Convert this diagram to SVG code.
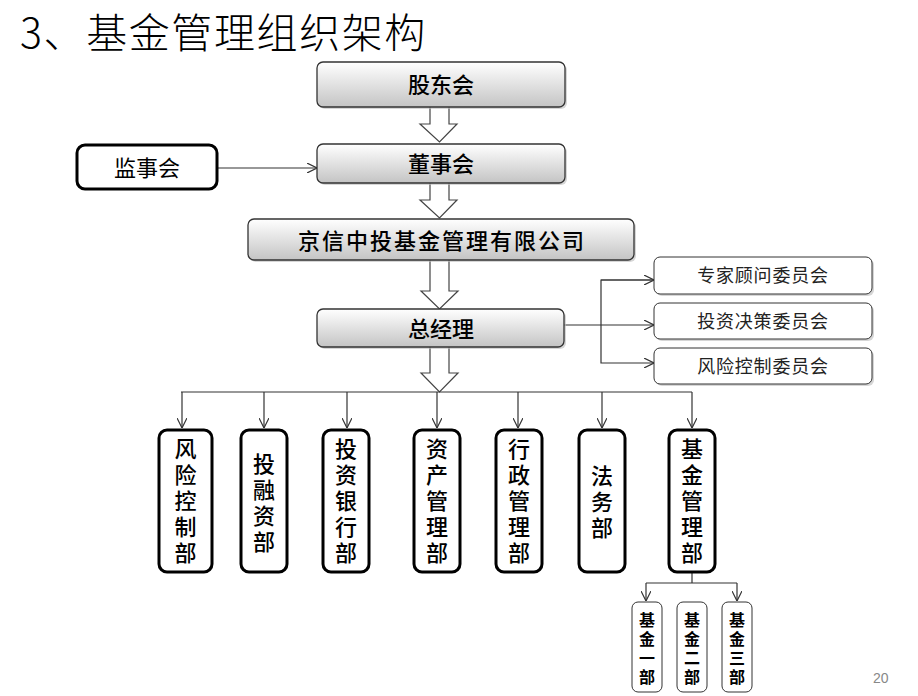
<svg xmlns="http://www.w3.org/2000/svg" width="918" height="696" viewBox="0 0 918 696">
<defs>
<linearGradient id="g" x1="0" y1="0" x2="0" y2="1">
<stop offset="0" stop-color="#ffffff"/>
<stop offset="1" stop-color="#c4c4c4"/>
</linearGradient>
<marker id="a" viewBox="0 0 10 10" refX="10" refY="5" markerWidth="10" markerHeight="10" markerUnits="userSpaceOnUse" orient="auto">
<path d="M0,0 L10,5 L0,10" fill="none" stroke="#333" stroke-width="1.2"/>
</marker>
</defs>
<style>
text{font-family:"Noto Sans CJK SC","Liberation Sans",sans-serif;fill:#000}
.gb{fill:url(#g);stroke:#333;stroke-width:1.3}
.sh{fill:#bbb;opacity:0.6}
.bk{fill:#fff;stroke:#000;stroke-width:3}
.th{fill:#fff;stroke:#333;stroke-width:1}
.ln{fill:none;stroke:#333;stroke-width:1.2}
.ha{fill:#fff;stroke:#444;stroke-width:1.2}
.m{font-size:22px;text-anchor:middle;font-weight:500}
.c{font-size:18px;text-anchor:middle;fill:#222;letter-spacing:0.8px}
.v{font-size:22px;text-anchor:middle;font-weight:500;writing-mode:vertical-rl;letter-spacing:4px}
.s{font-size:16px;text-anchor:middle;font-weight:bold;writing-mode:vertical-rl;letter-spacing:3px}
</style>
<rect width="918" height="696" fill="#fff"/>
<text x="20" y="48" font-size="41" style="font-weight:300;letter-spacing:1.6px">3、基金管理组织架构</text>

<g id="connectors">
<path class="ha" d="M430,107 V124 H420 L439.5,142 L457,124 H449 V107"/>
<path class="ha" d="M430,183 V200 H420 L439.5,218 L457,200 H449 V183"/>
<path class="ha" d="M430,260 V291 H421 L439.5,309 L458,291 H449 V260"/>
<path class="ha" d="M430,347 V373 H421 L439.5,392 L458,373 H449 V347"/>
<line class="ln" x1="217" y1="168" x2="317" y2="168" marker-end="url(#a)"/>
<line class="ln" x1="564" y1="325" x2="654" y2="325" marker-end="url(#a)"/>
<path class="ln" d="M654,280 H601 V363 H654" marker-end="url(#a)"/>
<line class="ln" x1="601" y1="280" x2="654" y2="280" marker-end="url(#a)"/>
<path class="ln" d="M181,392 H692"/>
<line class="ln" x1="182" y1="392" x2="182" y2="428" marker-end="url(#a)"/>
<line class="ln" x1="264" y1="392" x2="264" y2="428" marker-end="url(#a)"/>
<line class="ln" x1="347" y1="392" x2="347" y2="428" marker-end="url(#a)"/>
<line class="ln" x1="437" y1="392" x2="437" y2="428" marker-end="url(#a)"/>
<line class="ln" x1="518" y1="392" x2="518" y2="428" marker-end="url(#a)"/>
<line class="ln" x1="602" y1="392" x2="602" y2="428" marker-end="url(#a)"/>
<line class="ln" x1="692" y1="392" x2="692" y2="428" marker-end="url(#a)"/>
<path class="ln" d="M692,573 V583 M646,583 H737"/>
<line class="ln" x1="646" y1="583" x2="646" y2="601" marker-end="url(#a)"/>
<line class="ln" x1="737" y1="583" x2="737" y2="601" marker-end="url(#a)"/>
</g>

<g id="gudonghui">
<rect class="sh" x="319" y="64" width="248" height="45" rx="6"/>
<rect class="gb" x="317" y="62" width="248" height="45" rx="6"/>
<text class="m" x="441" y="93">股东会</text>
</g>
<g id="dongshihui">
<rect class="sh" x="319" y="146" width="248" height="39" rx="6"/>
<rect class="gb" x="317" y="144" width="248" height="39" rx="6"/>
<text class="m" x="441" y="172">董事会</text>
</g>
<g id="jianshihui">
<rect class="bk" x="77" y="145" width="140" height="44" rx="8"/>
<text class="m" x="147" y="176" style="font-weight:400">监事会</text>
</g>
<g id="company">
<rect class="sh" x="250" y="221" width="386" height="41" rx="6"/>
<rect class="gb" x="248" y="219" width="386" height="41" rx="6"/>
<text class="m" x="442" y="249" style="letter-spacing:2px">京信中投基金管理有限公司</text>
</g>
<g id="zongjingli">
<rect class="sh" x="319" y="311" width="247" height="38" rx="6"/>
<rect class="gb" x="317" y="309" width="247" height="38" rx="6"/>
<text class="m" x="441" y="337">总经理</text>
</g>
<g id="zhuanjia">
<rect class="sh" x="656" y="259" width="218" height="37" rx="6"/>
<rect class="th" x="654" y="257" width="218" height="37" rx="6"/>
<text class="c" x="763" y="282">专家顾问委员会</text>
</g>
<g id="touzijuece">
<rect class="sh" x="656" y="305" width="218" height="36" rx="6"/>
<rect class="th" x="654" y="303" width="218" height="36" rx="6"/>
<text class="c" x="763" y="328">投资决策委员会</text>
</g>
<g id="fengkong-wyh">
<rect class="sh" x="656" y="350" width="218" height="36" rx="6"/>
<rect class="th" x="654" y="348" width="218" height="36" rx="6"/>
<text class="c" x="763" y="373">风险控制委员会</text>
</g>

<g id="fengkongbu">
<rect class="bk" x="159" y="430" width="53" height="142" rx="8"/>
<text class="v" x="185.5" y="503">风险控制部</text>
</g>
<g id="tourongzi">
<rect class="bk" x="241" y="430" width="46" height="142" rx="8"/>
<text class="v" x="264" y="505">投融资部</text>
</g>
<g id="touhang">
<rect class="bk" x="323" y="430" width="46" height="142" rx="8"/>
<text class="v" x="346" y="503">投资银行部</text>
</g>
<g id="zichan">
<rect class="bk" x="414" y="430" width="46" height="142" rx="8"/>
<text class="v" x="437" y="503">资产管理部</text>
</g>
<g id="xingzheng">
<rect class="bk" x="496" y="430" width="46" height="142" rx="8"/>
<text class="v" x="519" y="503">行政管理部</text>
</g>
<g id="fawu">
<rect class="bk" x="579" y="430" width="46" height="142" rx="8"/>
<text class="v" x="602" y="504">法务部</text>
</g>
<g id="jijinguanli">
<rect class="bk" x="669" y="430" width="46" height="142" rx="8"/>
<text class="v" x="692" y="503">基金管理部</text>
</g>

<g id="jijin1">
<rect class="th" x="632" y="602" width="30" height="90" rx="6"/>
<text class="s" x="647" y="650">基金一部</text>
</g>
<g id="jijin2">
<rect class="th" x="677" y="602" width="30" height="90" rx="6"/>
<text class="s" x="692" y="650">基金二部</text>
</g>
<g id="jijin3">
<rect class="th" x="722" y="602" width="30" height="90" rx="6"/>
<text class="s" x="737" y="650">基金三部</text>
</g>
<text x="873" y="683" style="font-family:'Liberation Sans',sans-serif;font-size:14px;fill:#888">20</text>
</svg>
